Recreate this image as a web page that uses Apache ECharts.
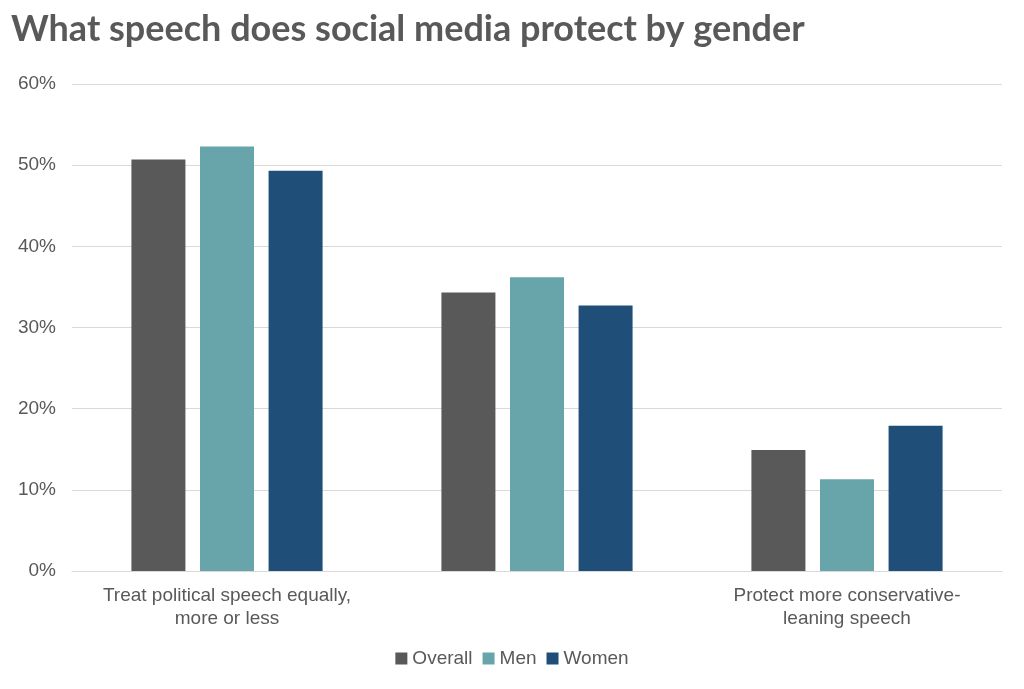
<!DOCTYPE html>
<html><head><meta charset="utf-8">
<script src="https://cdn.jsdelivr.net/npm/echarts@6/dist/echarts.min.js"></script>
<style>html,body{margin:0;padding:0;background:#fff}#c{width:1024px;height:689px}</style>
</head><body><div id="c"></div>
<script>
const categories = ["Treat political speech equally,\nmore or less", "Protect more liberal-leaning\nspeech", "Protect more conservative-\nleaning speech"];
const overall = [50.7, 34.3, 14.9];
const men = [52.3, 36.2, 11.3];
const women = [49.3, 32.7, 17.9];
const chart = echarts.init(document.getElementById('c'));
const mk = (name, data, color) => ({name, type:'bar', data, itemStyle:{color}, barWidth:54, barGap:'27%'});
chart.setOption({
  animation:false,
  title:{text:'What speech does social media protect by gender', left:6, top:6,
    textStyle:{fontFamily:'Lato', fontWeight:'bold', fontSize:36, color:'#595959'}},
  legend:{bottom:16, itemWidth:12, itemHeight:12, itemGap:10, icon:'rect',
    textStyle:{fontFamily:'Arial, Liberation Sans', fontSize:19, color:'#595959'}},
  grid:{left:72, right:22, top:84, bottom:118},
  xAxis:{type:'category', data:categories,
    axisLine:{lineStyle:{color:'#d9d9d9'}}, axisTick:{show:false},
    axisLabel:{fontFamily:'Arial, Liberation Sans', fontSize:19, color:'#595959', lineHeight:23, margin:13}},
  yAxis:{type:'value', min:0, max:60, interval:10,
    axisLabel:{formatter:'{value}%', fontFamily:'Arial, Liberation Sans', fontSize:19, color:'#595959', margin:16},
    splitLine:{lineStyle:{color:'#d9d9d9'}}},
  series:[mk('Overall', overall, '#595959'), mk('Men', men, '#67a5aa'), mk('Women', women, '#1f4e79')]
});
</script></body></html>
